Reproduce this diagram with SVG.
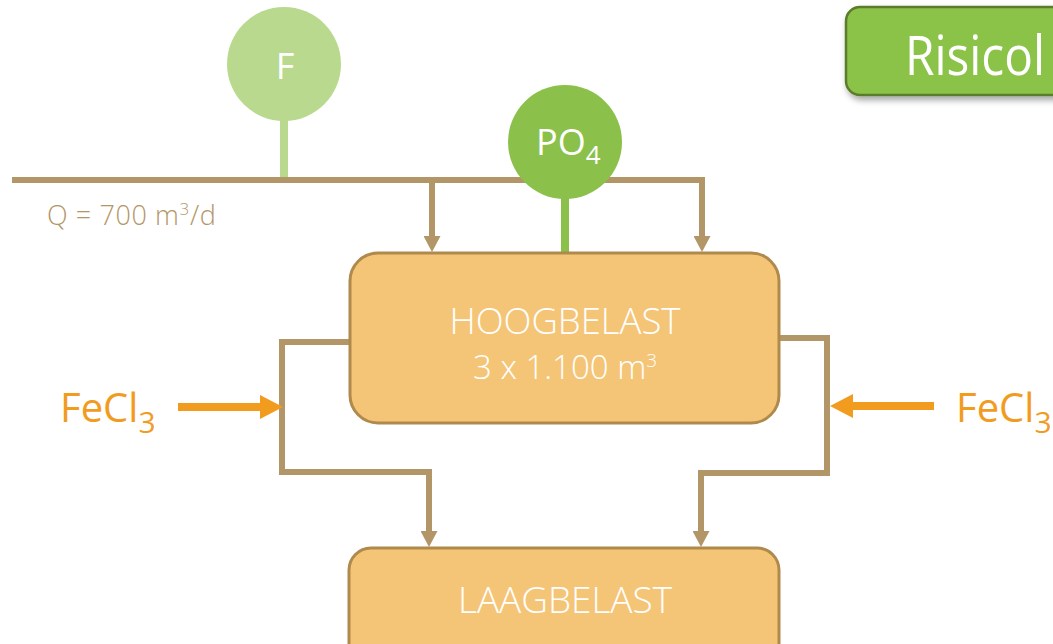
<svg xmlns="http://www.w3.org/2000/svg" width="1053" height="644" viewBox="0 0 1053 644">
<style>
.flow{fill:none;stroke:#b39668;stroke-width:6;stroke-linejoin:miter}
.dose{fill:none;stroke:#f29c1f;stroke-width:8}
.box{fill:#f5c577;stroke:#b08a4c;stroke-width:3}
.lbl{font-family:"Open Sans","Liberation Sans",sans-serif;font-weight:300;fill:#ffffff}
.fe{font-family:"Open Sans","Liberation Sans",sans-serif;fill:#f29c1f;font-size:40px}
</style>
<defs>
<marker id="ah" markerUnits="userSpaceOnUse" markerWidth="17" markerHeight="17" refX="2" refY="8.5" orient="auto" viewBox="0 0 17 17">
<path d="M0,0 L16,8.5 L0,17 z" fill="#b39668"/>
</marker>
<marker id="oh" markerUnits="userSpaceOnUse" markerWidth="23" markerHeight="24" refX="2" refY="12" orient="auto" viewBox="0 0 23 24">
<path d="M0,0 L23,12 L0,24 z" fill="#f29c1f"/>
</marker>
<filter id="sh" x="-10%" y="-20%" width="130%" height="160%">
<feDropShadow dx="2" dy="4" stdDeviation="3" flood-color="#000" flood-opacity="0.35"/>
</filter>
</defs>

<g id="title">
<rect x="846" y="7" width="240" height="88" rx="14" fill="#8bc34a" stroke="#5b7c2c" stroke-width="2.5" filter="url(#sh)"/>
<text x="905" y="75" font-family="'Open Sans','Liberation Sans',sans-serif" font-size="54" fill="#ffffff" textLength="140" lengthAdjust="spacingAndGlyphs">Risicol</text>
</g>

<g id="connectors">
<path class="flow" d="M12 180 H702 V238" marker-end="url(#ah)"/>
<path class="flow" d="M432 180 V238" marker-end="url(#ah)"/>
<path class="flow" d="M350 342 H282 V472 H429 V533" marker-end="url(#ah)"/>
<path class="flow" d="M780 338 H827 V473 H701 V533" marker-end="url(#ah)"/>
<line class="dose" x1="178" y1="407" x2="262" y2="407" marker-end="url(#oh)"/>
<line class="dose" x1="934" y1="406" x2="851" y2="406" marker-end="url(#oh)"/>
</g>

<g id="F">
<line x1="284" y1="110" x2="284" y2="177" stroke="#b9da8e" stroke-width="8"/>
<circle cx="284" cy="64" r="57" fill="#b9da8e"/>
<text x="285" y="79" text-anchor="middle" class="lbl" style="font-weight:400" font-size="36">F</text>
</g>

<g id="PO4">
<line x1="565" y1="190" x2="565" y2="254" stroke="#8bc14a" stroke-width="8"/>
<circle cx="565" cy="142" r="57" fill="#8bc14a"/>
<text x="536" y="155" class="lbl" style="font-weight:400" font-size="36">PO<tspan font-size="26" dy="9">4</tspan></text>
</g>

<g id="Q">
<text x="47" y="225" font-family="'Open Sans','Liberation Sans',sans-serif" font-weight="300" font-size="27" fill="#b39668" letter-spacing="0.6">Q = 700 m<tspan font-size="17" dy="-10">3</tspan><tspan dy="10">/d</tspan></text>
</g>

<g id="hoogbelast">
<rect class="box" x="350" y="253" width="429" height="170" rx="28"/>
<text x="565" y="334" text-anchor="middle" class="lbl" font-size="37" textLength="231" lengthAdjust="spacingAndGlyphs">HOOGBELAST</text>
<text x="473" y="379" class="lbl" font-size="33">3 x 1.100 m<tspan font-size="19" dy="-12">3</tspan></text>
</g>

<g id="laagbelast">
<rect class="box" x="349" y="548" width="430" height="120" rx="22"/>
<text x="565" y="613" text-anchor="middle" class="lbl" font-size="37" textLength="214" lengthAdjust="spacingAndGlyphs">LAAGBELAST</text>
</g>

<g id="fecl3-left">
<text x="60" y="422" class="fe">FeCl<tspan font-size="30" dy="11">3</tspan></text>
</g>

<g id="fecl3-right">
<text x="956" y="422" class="fe">FeCl<tspan font-size="30" dy="11">3</tspan></text>
</g>
</svg>
